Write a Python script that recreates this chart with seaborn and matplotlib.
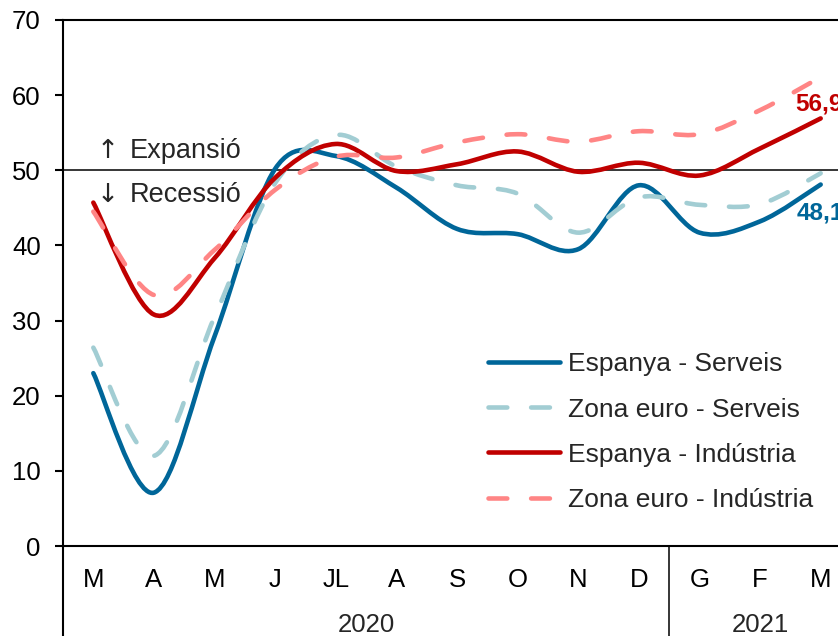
import numpy as np
import pandas as pd
import seaborn as sns
import matplotlib.pyplot as plt
from matplotlib.path import Path
from matplotlib.patches import PathPatch

# PMI, març 2020 - març 2021
months = ['M', 'A', 'M', 'J', 'JL', 'A', 'S', 'O', 'N', 'D', 'G', 'F', 'M']
years = ['2020', '2021']
year_spans = [(-0.5, 9.5), (9.5, 12.5)]

esp_serveis = [23.0, 7.1, 27.9, 50.2, 51.9, 47.7, 42.2, 41.5, 39.5, 48.0, 41.7, 43.2, 48.1]
ze_serveis = [26.4, 12.0, 30.5, 48.3, 54.7, 50.5, 48.0, 46.9, 41.7, 46.4, 45.4, 45.5, 49.6]
esp_industria = [45.7, 30.8, 38.3, 49.0, 53.5, 49.9, 50.8, 52.5, 49.8, 51.0, 49.3, 52.9, 56.9]
ze_industria = [44.5, 33.4, 39.4, 47.4, 51.8, 51.7, 53.7, 54.8, 53.8, 55.2, 54.8, 58.0, 62.4]

series = [
    ('Espanya - Serveis', esp_serveis, '#006699', '-'),
    ('Zona euro - Serveis', ze_serveis, '#A2CDD3', (0, (4.1, 5.2))),
    ('Espanya - Indústria', esp_industria, '#C00000', '-'),
    ('Zona euro - Indústria', ze_industria, '#FF8585', (0, (4.1, 5.2))),
]


def smooth_path(xy):
    # same kind of bezier smoothing as a spreadsheet "smoothed line"
    n = len(xy)
    verts = [xy[0]]
    codes = [Path.MOVETO]
    for i in range(n - 1):
        p0 = xy[max(i - 1, 0)]
        p1 = xy[i]
        p2 = xy[i + 1]
        p3 = xy[min(i + 2, n - 1)]
        verts += [p1 + (p2 - p0) / 6, p2 - (p3 - p1) / 6, p2]
        codes += [Path.CURVE4] * 3
    return Path(np.array(verts), codes)


sns.set_style('white')
plt.rcParams['font.family'] = ['Liberation Sans', 'DejaVu Sans']

fig = plt.figure(figsize=(8.38, 6.36), dpi=100)
ax = fig.add_axes([0.0752, 0.1415, 0.9403, 0.8271])

x = np.arange(len(months))
lw = 3.3
for name, vals, color, ls in series:
    df = pd.DataFrame({'x': x, 'y': vals})
    sns.lineplot(data=df, x='x', y='y', ax=ax, color=color, lw=lw,
                 linestyle=ls, label=name, dash_capstyle='round',
                 solid_capstyle='round')

handles, labels = ax.get_legend_handles_labels()
ax.legend(handles, labels, loc='upper left', bbox_to_anchor=(0.539, 0.368),
          frameon=False, fontsize=19, handlelength=2.75, handletextpad=0.3,
          labelspacing=0.8, borderpad=0, borderaxespad=0)

# swap the straight segments for smoothed curves
for line, (name, vals, color, ls) in zip(list(ax.get_lines()), series):
    patch = PathPatch(smooth_path(line.get_xydata()), fill=False,
                      edgecolor=color, lw=lw, linestyle=ls,
                      capstyle='round', joinstyle='round', zorder=3)
    ax.add_patch(patch)
    line.remove()

ax.axhline(50, color='black', lw=1.1, zorder=1)

ax.set_xlim(-0.5, 12.5)
ax.set_ylim(0, 70)
ax.set_yticks(range(0, 71, 10))
ax.set_xticks(x)
ax.set_xticklabels(months)
ax.set_xlabel('')
ax.set_ylabel('')
ax.tick_params(axis='y', length=6, width=1.5, direction='out', pad=10,
               labelsize=18.5, left=True, colors='black')
ax.tick_params(axis='x', length=0, pad=16, labelsize=18.5, colors='black')

for side in ['left', 'top', 'bottom', 'right']:
    ax.spines[side].set_color('black')
    ax.spines[side].set_linewidth(1.5)

# year band under the month labels
sep = ax.get_xaxis_transform()
for lo, hi in year_spans:
    ax.plot([hi, hi], [0, -0.2], transform=sep, color='black', lw=1.1,
            clip_on=False)
ax.plot([-0.5, -0.5], [0, -0.2], transform=sep, color='black', lw=1.5,
        clip_on=False)
for (lo, hi), yr in zip(year_spans, years):
    ax.text((lo + hi) / 2, -0.15, yr, transform=sep, ha='center',
            va='center', fontsize=18.5)

ax.text(0.05, 51.6, '↑', fontsize=19, family='DejaVu Sans', va='baseline')
ax.text(0.605, 51.6, 'Expansió', fontsize=19.5, va='baseline')
ax.text(0.05, 45.8, '↓', fontsize=19, family='DejaVu Sans', va='baseline')
ax.text(0.605, 45.8, 'Recessió', fontsize=19.5, va='baseline')

ax.text(11.58, 58.8, f'{esp_industria[-1]:.1f}'.replace('.', ','),
        color='#C00000', fontsize=17.5, fontweight='bold', va='center',
        clip_on=False)
ax.text(11.61, 44.3, f'{esp_serveis[-1]:.1f}'.replace('.', ','),
        color='#006699', fontsize=17.5, fontweight='bold', va='center',
        clip_on=False)

fig.savefig('out.png', dpi=100)
